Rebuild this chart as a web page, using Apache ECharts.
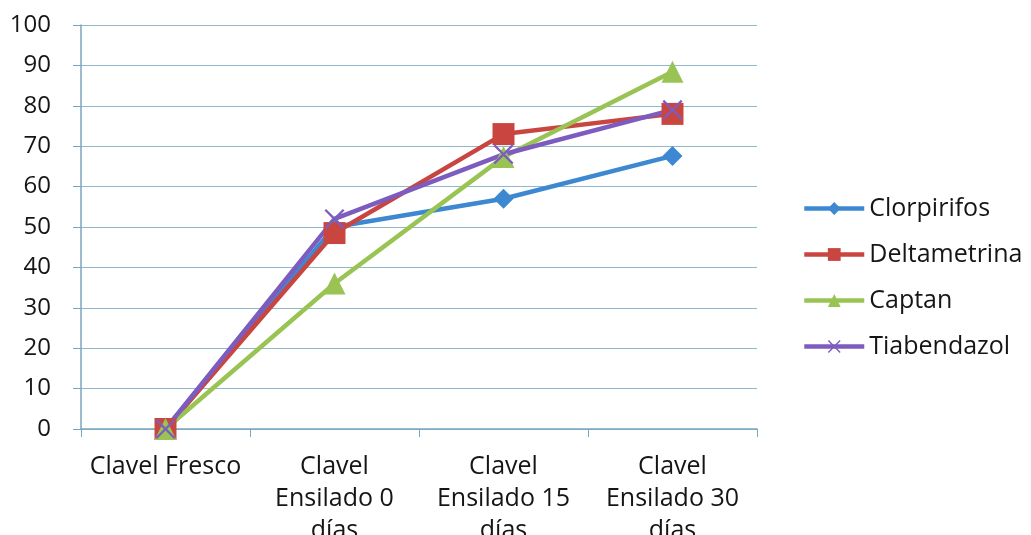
<!DOCTYPE html>
<html><head><meta charset="utf-8">
<script src="https://cdn.jsdelivr.net/npm/echarts@6/dist/echarts.min.js"></script>
<style>html,body{margin:0;padding:0;background:#fff}#c{width:1031px;height:535px}</style>
</head><body><div id="c"></div>
<script>
const categories = ['Clavel Fresco', 'Clavel\nEnsilado 0\ndías', 'Clavel\nEnsilado 15\ndías', 'Clavel\nEnsilado 30\ndías'];
const clorpirifos = [0, 50, 57, 67.6];
const deltametrina = [0, 48.5, 73, 78];
const captan = [0, 36, 67.3, 88.4];
const tiabendazol = [0, 52, 68, 79];
const yTicks = {min: 0, max: 100, interval: 10};

const xPath = 'path://M0,1.6L1.6,0L10,8.4L18.4,0L20,1.6L11.6,10L20,18.4L18.4,20L10,11.6L1.6,20L0,18.4L8.4,10Z';
const font = '"Open Sans", sans-serif';
function mk(name, data, color, symbol, size) {
  return {name, type: 'line', data, symbol, symbolSize: size,
    lineStyle: {width: 4.5, color}, itemStyle: {color}, z: 3};
}
const chart = echarts.init(document.getElementById('c'));
chart.setOption({
  animation: false,
  textStyle: {fontFamily: font},
  grid: {left: 81, right: 274, top: 25, bottom: 106, containLabel: false, outerBoundsMode: 'none'},
  legend: {orient: 'vertical', left: 802, top: 196, padding: 0, itemGap: 21, itemWidth: 60, itemHeight: 16,
    lineStyle: {width: 4.5},
    textStyle: {fontSize: 25, color: '#151515', fontFamily: font},
    data: ['Clorpirifos', 'Deltametrina', 'Captan', 'Tiabendazol']},
  xAxis: {type: 'category', data: categories, boundaryGap: true,
    axisLine: {lineStyle: {color: '#7aa6bd', width: 1.5}},
    axisTick: {show: true, length: 8, alignWithLabel: false, lineStyle: {color: '#7aa6bd'}},
    axisLabel: {fontSize: 25, color: '#151515', lineHeight: 32, margin: 22, interval: 0}},
  yAxis: {type: 'value', min: yTicks.min, max: yTicks.max, interval: yTicks.interval,
    axisLine: {show: true, lineStyle: {color: '#7aa6bd', width: 1.5}},
    axisTick: {show: true, length: 8, lineStyle: {color: '#7aa6bd'}},
    splitLine: {lineStyle: {color: '#8fb8cc', width: 1.2}},
    axisLabel: {fontSize: 24, color: '#151515', margin: 30}},
  series: [
    mk('Clorpirifos', clorpirifos, '#3d88d0', 'diamond', 20),
    mk('Deltametrina', deltametrina, '#c94540', 'rect', 22),
    mk('Captan', captan, '#99c454', 'triangle', 22),
    mk('Tiabendazol', tiabendazol, '#7d5cbf', xPath, 20)
  ]
});
</script></body></html>
